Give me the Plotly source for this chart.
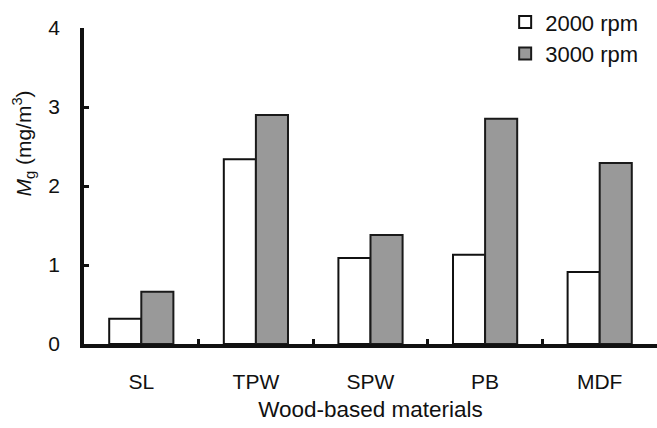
import plotly.graph_objects as go

categories = ["SL", "TPW", "SPW", "PB", "MDF"]
rpm2000 = [0.32, 2.34, 1.09, 1.13, 0.91]
rpm3000 = [0.66, 2.90, 1.38, 2.85, 2.29]
series_names = ["2000 rpm", "3000 rpm"]
y_ticks = [0, 1, 2, 3, 4]

FONT = "Liberation Sans, Arial, sans-serif"
fig = go.Figure()
fig.add_trace(go.Bar(x=categories, y=rpm2000, name=series_names[0], legendgroup="a",
                     marker=dict(color="white", line=dict(color="#111111", width=2))))
fig.add_trace(go.Bar(x=categories, y=rpm3000, name=series_names[1], legendgroup="b",
                     marker=dict(color="#999999", line=dict(color="#1a1a1a", width=2))))

fig.update_layout(
    width=657, height=428,
    margin=dict(l=84, r=0, t=28, b=84, autoexpand=False),
    paper_bgcolor="white", plot_bgcolor="white",
    barmode="group", bargap=0.44, bargroupgap=0,
    font=dict(family=FONT, size=21, color="#111111"),
    showlegend=True,
    legend=dict(xref="paper", yref="paper", x=0.735, y=1.085,
                xanchor="left", yanchor="top", traceorder="normal",
                tracegroupgap=10, font=dict(size=22), bgcolor="rgba(0,0,0,0)"),
    xaxis=dict(type="category", range=[-0.5, 4.5], showline=True, linecolor="#111111",
               linewidth=3.5, ticks="inside", tickson="boundaries", ticklen=5, tickwidth=3,
               tickcolor="#111111", ticklabelstandoff=16, showgrid=False, zeroline=False,
               automargin=False, tickfont=dict(size=21),
               title=dict(text="Wood-based materials", font=dict(size=22.5), standoff=10)),
    yaxis=dict(range=[0, 4], tickvals=y_ticks, showline=True, linecolor="#111111",
               linewidth=3.5, ticks="inside", ticklen=5, tickwidth=3, tickcolor="#111111",
               ticklabelstandoff=16, showgrid=False, zeroline=False, automargin=False,
               tickfont=dict(size=21)),
    annotations=[dict(text="<i>M</i><sub>g</sub> (mg/m<sup>3</sup>)", xref="paper", yref="paper",
                      x=-0.106, y=0.635, xanchor="center", yanchor="middle", textangle=-90,
                      showarrow=False, font=dict(size=21))],
)
fig.write_html("out.html")
